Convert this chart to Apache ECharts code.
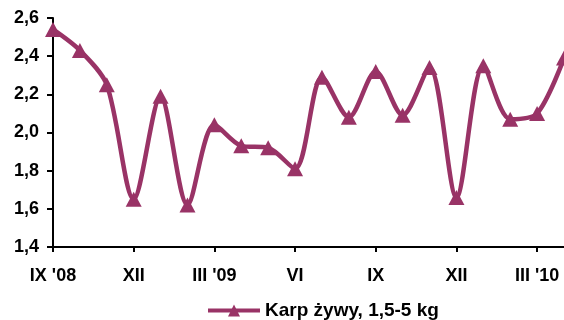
<!DOCTYPE html>
<html>
<head>
<meta charset="utf-8">
<script src="https://cdn.jsdelivr.net/npm/echarts@6/dist/echarts.min.js"></script>
<style>
html,body{margin:0;padding:0;background:#fff;}
#c{width:564px;height:320px;}
</style>
</head>
<body>
<div id="c"></div>
<script>
var categories = ["IX '08","X","XI","XII","I","II","III '09","IV","V","VI","VII","VIII","IX","X","XI","XII","I","II","III '10","IV"];
var seriesName = "Karp żywy, 1,5-5 kg";
var values = [2.54, 2.43, 2.25, 1.65, 2.19, 1.62, 2.04, 1.93, 1.92, 1.81, 2.29, 2.08, 2.32, 2.09, 2.34, 1.66, 2.35, 2.07, 2.10, 2.39];
var yMin = 1.4, yMax = 2.6, yStep = 0.2;

var font = "'Liberation Sans', Arial, sans-serif";
var color = '#993366';
var chart = echarts.init(document.getElementById('c'), null, {renderer: 'canvas'});
chart.setOption({
  animation: false,
  backgroundColor: '#ffffff',
  grid: {left: 53, right: 0, top: 18, bottom: 73, containLabel: false},
  legend: {
    show: true,
    left: 201,
    top: 296,
    itemWidth: 52,
    itemHeight: 15,
    lineStyle: {width: 4},
    textStyle: {fontFamily: font, fontSize: 19, fontWeight: 'bold', color: '#000'},
    data: [seriesName]
  },
  xAxis: {
    type: 'category',
    data: categories,
    boundaryGap: false,
    axisLine: {lineStyle: {color: '#000', width: 2}},
    axisTick: {show: true, interval: 2, length: 5, lineStyle: {color: '#000', width: 2}},
    axisLabel: {interval: 2, margin: 20, color: '#000', fontFamily: font, fontSize: 18, fontWeight: 'bold'},
    splitLine: {show: false}
  },
  yAxis: {
    type: 'value',
    min: yMin, max: yMax, interval: yStep,
    axisLine: {show: true, lineStyle: {color: '#000', width: 2}},
    axisTick: {show: true, length: 6, lineStyle: {color: '#000', width: 2}},
    axisLabel: {margin: 14, color: '#000', fontFamily: font, fontSize: 18, fontWeight: 'bold',
      formatter: function(v){ return v.toFixed(1).replace('.', ','); }},
    splitLine: {show: false}
  },
  series: [{
    name: seriesName,
    type: 'line',
    data: values,
    smooth: 0.3,
    symbol: 'triangle',
    symbolSize: [16, 15],
    itemStyle: {color: color},
    lineStyle: {color: color, width: 4.5},
    clip: false
  }]
});
</script>
</body>
</html>
